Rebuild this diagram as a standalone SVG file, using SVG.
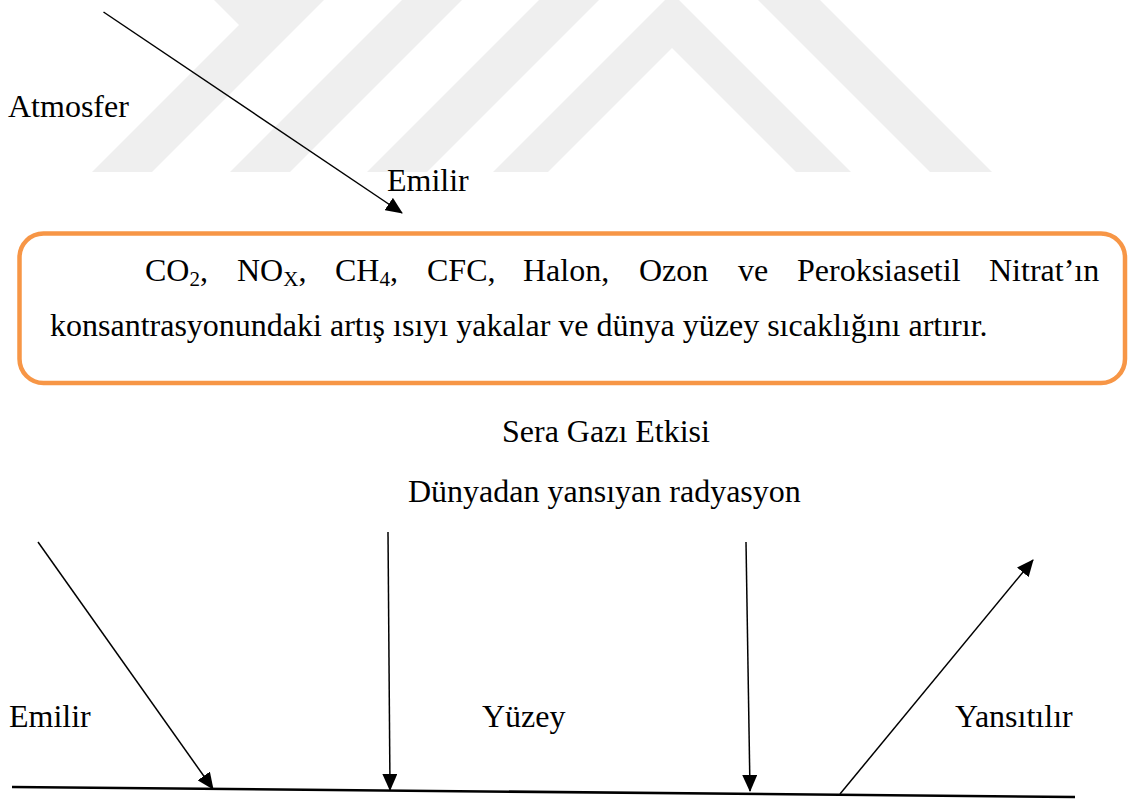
<svg xmlns="http://www.w3.org/2000/svg" width="1128" height="799" viewBox="0 0 1128 799">
  <style>
    .t { font-family: "Liberation Serif", "Times New Roman", serif; font-size: 32px; fill: #000; }
    .sub { font-size: 21px; }
    .wm { fill: #efefef; stroke: none; }
    .ln { stroke: #000; stroke-width: 1.5; fill: none; }
    .ground { stroke: #000; stroke-width: 2.6; fill: none; }
    .box { fill: none; stroke: #F79646; stroke-width: 4.5; }
  </style>
  <defs>
    <marker id="ah" markerUnits="userSpaceOnUse" markerWidth="17" markerHeight="15" viewBox="0 0 17 15" refX="16" refY="7.5" orient="auto">
      <path d="M0,0 L17,7.5 L0,15 z" fill="#000"/>
    </marker>
  </defs>
  <rect width="1128" height="799" fill="#fff"/>

  <g id="watermark">
    <polygon class="wm" points="92,172 152,172 324,0 214,0 239,25"/>
    <polygon class="wm" points="230,172 290,172 462,0 402,0"/>
    <polygon class="wm" points="367,172 427,172 599,0 539,0"/>
    <polygon class="wm" points="493,172 548,172 672,48 796,172 851,172 679,0 665,0"/>
    <polygon class="wm" points="930,172 992,172 820,0 758,0"/>
  </g>

  <g id="connectors">
    <line class="ln" x1="103.5" y1="12" x2="402" y2="213" marker-end="url(#ah)"/>
    <line class="ln" x1="38" y1="542" x2="213" y2="789" marker-end="url(#ah)"/>
    <line class="ln" x1="388" y1="532" x2="390" y2="790" marker-end="url(#ah)"/>
    <line class="ln" x1="746" y1="542" x2="750" y2="791" marker-end="url(#ah)"/>
    <line class="ln" x1="840" y1="794" x2="1033" y2="560" marker-end="url(#ah)"/>
    <line class="ground" x1="12" y1="787" x2="1075" y2="797"/>
  </g>

  <g id="atmosfer-label">
    <text class="t" x="8" y="117">Atmosfer</text>
  </g>
  <g id="emilir-top-label">
    <text class="t" x="387" y="191">Emilir</text>
  </g>

  <g id="gas-box">
    <rect class="box" x="19.5" y="233.5" width="1105.5" height="149.5" rx="24" ry="24"/>
    <text class="t" y="281"><tspan x="145">CO</tspan><tspan class="sub" dy="5">2</tspan><tspan dy="-5">,</tspan><tspan x="237">NO</tspan><tspan class="sub" dy="5">X</tspan><tspan dy="-5">,</tspan><tspan x="335">CH</tspan><tspan class="sub" dy="5">4</tspan><tspan dy="-5">,</tspan><tspan x="427">CFC,</tspan><tspan x="523">Halon,</tspan><tspan x="639">Ozon</tspan><tspan x="738">ve</tspan><tspan x="797">Peroksiasetil</tspan><tspan x="989">Nitrat’ın</tspan></text>
    <text class="t" x="50" y="336">konsantrasyonundaki artış ısıyı yakalar ve dünya yüzey sıcaklığını artırır.</text>
  </g>

  <g id="sera-gazi-label">
    <text class="t" x="502" y="442">Sera Gazı Etkisi</text>
  </g>
  <g id="dunyadan-label">
    <text class="t" x="408" y="502">Dünyadan yansıyan radyasyon</text>
  </g>
  <g id="emilir-bottom-label">
    <text class="t" x="9" y="727">Emilir</text>
  </g>
  <g id="yuzey-label">
    <text class="t" x="482" y="727">Yüzey</text>
  </g>
  <g id="yansitilir-label">
    <text class="t" x="955" y="727">Yansıtılır</text>
  </g>
</svg>
